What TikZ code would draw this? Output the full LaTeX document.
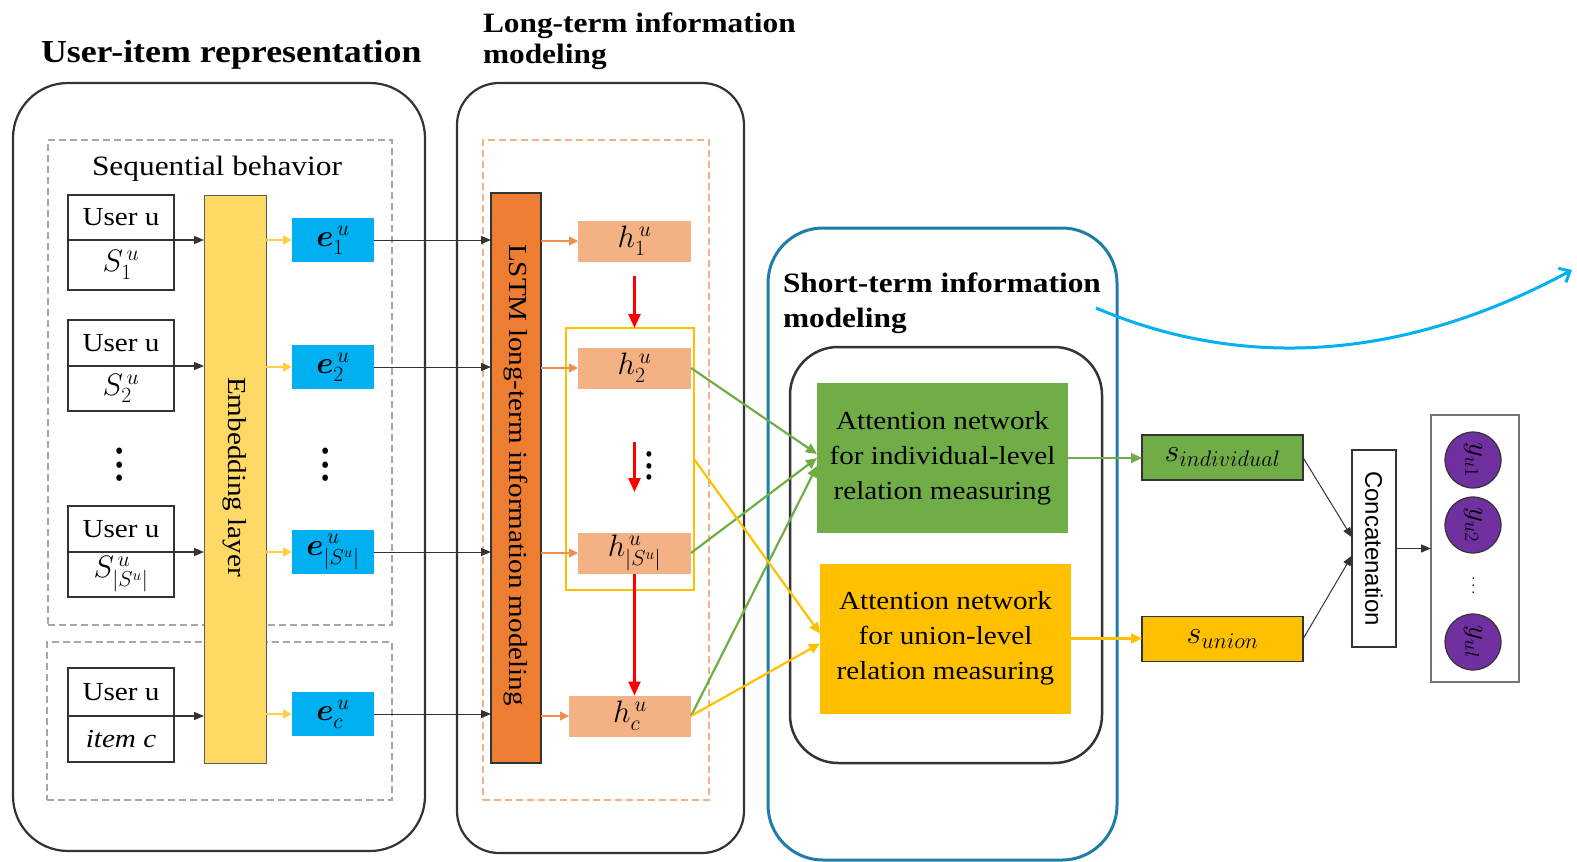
\documentclass[tikz,border=0pt]{standalone}
\usepackage{fix-cm}
\usepackage{amsmath}
\usepackage{fontspec}
\setmainfont{Liberation Serif}[FakeStretch=1.12]
\newfontfamily\concatfont{Liberation Sans}
\usetikzlibrary{arrows.meta,fit,calc}
\definecolor{cE}{HTML}{00B0F0}
\definecolor{cEmb}{HTML}{FFD966}
\definecolor{cL}{HTML}{ED7D31}
\definecolor{cH}{HTML}{F4B183}
\definecolor{cY}{HTML}{FFC000}
\definecolor{cG}{HTML}{70AD47}
\definecolor{cP}{HTML}{7030A0}
\definecolor{cST}{HTML}{1F7CA8}
\definecolor{cDash}{HTML}{A6A6A6}
\definecolor{cLine}{HTML}{333333}
\begin{document}
\begin{tikzpicture}[x=1pt,y=-1pt,
  every node/.style={inner sep=0pt, outer sep=0pt},
  title/.style={font=\fontsize{28}{31}\selectfont\bfseries, align=left, anchor=north west},
  body/.style={font=\fontsize{26}{30}\selectfont},
  mathlbl/.style={font=\fontsize{31}{34}\selectfont},
  vdot/.style={rotate=-90, font=\fontsize{48}{50}\selectfont},
  outer/.style={draw=cLine, line width=2.2pt, inner sep=0pt},
  dbox/.style={draw=cDash, line width=1.8pt, dash pattern=on 7pt off 4pt, inner sep=0pt},
  odash/.style={draw=cH, line width=1.8pt, dash pattern=on 7pt off 4pt, inner sep=0pt},
  ubox/.style={draw=cLine, line width=1.8pt, minimum width=106pt, body},
  ebox/.style={fill=cE, minimum width=82pt, minimum height=44pt, mathlbl},
  hbox/.style={fill=cH, minimum height=41pt, mathlbl},
  sbox/.style={draw=cLine, line width=1.5pt, minimum width=161pt, minimum height=45pt, font=\fontsize{32}{34}\selectfont},
  attbox/.style={minimum width=251pt, minimum height=150pt, align=center, font=\fontsize{26}{35}\selectfont},
  ycirc/.style={circle, fill=cP, draw=cLine, line width=1.2pt, minimum size=56pt, rotate=-90, font=\fontsize{29}{30}\selectfont},
  blk/.style={-{Triangle[length=10pt,width=8pt]}, line width=1.3pt, draw=cLine},
  blkthin/.style={-{Triangle[length=10pt,width=8pt]}, line width=1pt, draw=cLine},
  yarr/.style={-{Triangle[length=9pt,width=9pt]}, line width=1.3pt, draw=cY!75},
  oarr/.style={-{Triangle[length=9pt,width=9pt]}, line width=1.3pt, draw=cL!85},
  rarr/.style={-{Triangle[length=14pt,width=12pt]}, line width=2.5pt, draw=red},
  garr/.style={-{Triangle[length=11pt,width=10pt]}, line width=2.2pt, draw=cG},
  yarr2/.style={-{Triangle[length=11pt,width=10pt]}, line width=2.2pt, draw=cY}
]
\useasboundingbox (0,0) rectangle (1577,862);

% ---------- User-item representation ----------
\node (ui) [font=\fontsize{32}{36}\selectfont\bfseries, anchor=base west] at (41,62) {User-item representation};
\node (uibox) [outer, rounded corners=55pt, fit={(13,83)(425,851)}] {};
\node (seqbox) [dbox, fit={(48,140)(392,625)}] {};
\node (itembox) [dbox, fit={(47,642)(392,800)}] {};
\node (seqtxt) [font=\fontsize{28}{32}\selectfont] at (217,169) {Sequential behavior};

\node (u1a) [ubox, minimum height=45pt] at (121,217.5) {User u};
\node (u1b) [ubox, minimum height=50pt, anchor=north, mathlbl] at (u1a.south) {$S_1^{\,u}$};
\node (u2a) [ubox, minimum height=46pt] at (121,343) {User u};
\node (u2b) [ubox, minimum height=45pt, anchor=north, mathlbl] at (u2a.south) {$S_2^{\,u}$};
\node (u3a) [ubox, minimum height=46pt] at (121,529) {User u};
\node (u3b) [ubox, minimum height=45pt, anchor=north, mathlbl] at (u3a.south) {$S_{|S^u|}^{\,u}$};
\node (u4a) [ubox, minimum height=48pt] at (121,692) {User u};
\node (u4b) [ubox, minimum height=46pt, anchor=north] at (u4a.south) {\textit{item c}};

\node (emb) [draw=cLine!80, line width=1pt, fill=cEmb, minimum width=62pt, minimum height=568pt] at (235,479) {};
\node (embtxt) [rotate=-90, body] at (235,477) {Embedding layer};

\draw[blk] (u1a.south east) -- (u1a.south east -| emb.west);
\draw[blk] (u2a.south east) -- (u2a.south east -| emb.west);
\draw[blk] (u3a.south east) -- (u3a.south east -| emb.west);
\draw[blk] (u4a.south east) -- (u4a.south east -| emb.west);

\node (e1) [ebox] at (333,240) {$\boldsymbol{e}_1^{\,u}$};
\node (e2) [ebox] at (333,367) {$\boldsymbol{e}_2^{\,u}$};
\node (e3) [ebox] at (333,552) {$\boldsymbol{e}_{|S^u|}^{\,u}$};
\node (ec) [ebox] at (333,714) {$\boldsymbol{e}_c^{\,u}$};
\node (dl) [vdot] at (120,465) {...};
\node (dm) [vdot] at (326,465) {...};

\draw[yarr] (e1.west -| emb.east) -- (e1.west);
\draw[yarr] (e2.west -| emb.east) -- (e2.west);
\draw[yarr] (e3.west -| emb.east) -- (e3.west);
\draw[yarr] (ec.west -| emb.east) -- (ec.west);

% ---------- Long-term ----------
\node (lt) [title] at (483,13) {Long-term information\\modeling};
\node (ltbox) [outer, rounded corners=42pt, fit={(457,83)(744,853)}] {};
\node (ltdash) [odash, fit={(483,140)(709,800)}] {};
\node (lstm) [draw=cLine, line width=1.5pt, fill=cL, minimum width=50pt, minimum height=570pt] at (516,478) {};
\node (lstmtxt) [rotate=-90, body] at (516,475) {LSTM long-term information modeling};

\draw[blkthin] (e1.east) -- (e1.east -| lstm.west);
\draw[blkthin] (e2.east) -- (e2.east -| lstm.west);
\draw[blkthin] (e3.east) -- (e3.east -| lstm.west);
\draw[blkthin] (ec.east) -- (ec.east -| lstm.west);

\node (h1) [hbox, minimum width=113pt] at (634.5,241) {$h_1^{\,u}$};
\node (h2) [hbox, minimum width=113pt] at (634.5,368) {$h_2^{\,u}$};
\node (h3) [hbox, minimum width=113pt] at (634.5,553) {$h_{|S^u|}^{\,u}$};
\node (hc) [hbox, minimum width=122pt] at (630,716) {$h_c^{\,u}$};
\node (yf) [draw=cY, line width=2pt, inner sep=0pt, fit={(566,328)(694,590)}] {};

\draw[oarr] (h1.west -| lstm.east) -- (h1.west);
\draw[oarr] (h2.west -| lstm.east) -- (h2.west);
\draw[oarr] (h3.west -| lstm.east) -- (h3.west);
\draw[oarr] (hc.west -| lstm.east) -- (hc.west);

\draw[rarr, shorten <=14pt] (h1.south) -- (h1.south |- yf.north);
\coordinate (r2a) at (634.5,442);
\coordinate (r2b) at (634.5,492);
\draw[rarr] (r2a) -- (r2b);
\node (dh) [rotate=-90, font=\fontsize{42}{46}\selectfont] at (649,466) {...};
\draw[rarr] (h3.south) -- (h3.south |- hc.north);

% ---------- Short-term ----------
\node (stbox) [draw=cST, line width=3pt, rounded corners=55pt, inner sep=0pt, fit={(768,228)(1117,860)}] {};
\node (st) [title, font=\fontsize{28}{35}\selectfont\bfseries] at (783,273) {Short-term information\\modeling};
\node (inner) [outer, line width=2.5pt, rounded corners=48pt, fit={(790,347)(1102,763)}] {};
\node (att1) [attbox, fill=cG] at (942.5,458) {Attention network\\for individual-level\\relation measuring};
\node (att2) [attbox, fill=cY] at (945.5,638.5) {Attention network\\for union-level\\relation measuring};

\draw[garr] (h2.east) -- ($(att1.west)+(0,-4)$);
\draw[garr] (h3.east) -- ($(att1.west)+(0,0)$);
\draw[garr] (hc.east) -- ($(att1.west)+(0,8)$);
\draw[yarr2] (yf.east) -- ($(att2.west)+(0,-5)$);
\draw[yarr2] (hc.east) -- ($(att2.west)+(0,5)$);

% ---------- Output side ----------
\node (sind) [sbox, fill=cG] at (1222.5,457.5) {$s_{individual}$};
\node (sun) [sbox, fill=cY] at (1222.5,639) {$s_{union}$};
\draw[garr] (att1.east) -- (att1.east -| sind.west);
\draw[yarr2] (att2.east) -- (att2.east -| sun.west);

\node (cat) [draw=cLine, line width=1.5pt, minimum width=44pt, minimum height=197pt] at (1374,548.5) {};
\node (cattxt) [rotate=-90, font=\concatfont\fontsize{24}{28}\selectfont] at (cat.center) {Concatenation};
\draw[blkthin] (sind.east) -- ($(cat.west)+(0,-11)$);
\draw[blkthin] (sun.east) -- ($(cat.west)+(0,7)$);

\node (outb) [draw=black!55, line width=1.5pt, minimum width=88pt, minimum height=267pt] at (1475,548.5) {};
\draw[blk] (cat.east) -- (cat.east -| outb.west);
\node (y1) [ycirc] at (1473,460) {$y_{u1}$};
\node (y2) [ycirc] at (1473,525) {$y_{u2}$};
\node (y3) [ycirc] at (1473,642) {$y_{ul}$};
\node (yd) [rotate=-90, font=\fontsize{16}{18}\selectfont] at (1473,587) {$\cdots$};

% ---------- Blue curved arrow ----------
\coordinate (c0) at (1096,308);
\coordinate (c1) at (1572,270);
\draw[cE, line width=3pt, -{Straight Barb[length=9pt,width=16pt]}] (c0) .. controls (1230,365) and (1390,368) .. (c1);
\end{tikzpicture}
\end{document}
